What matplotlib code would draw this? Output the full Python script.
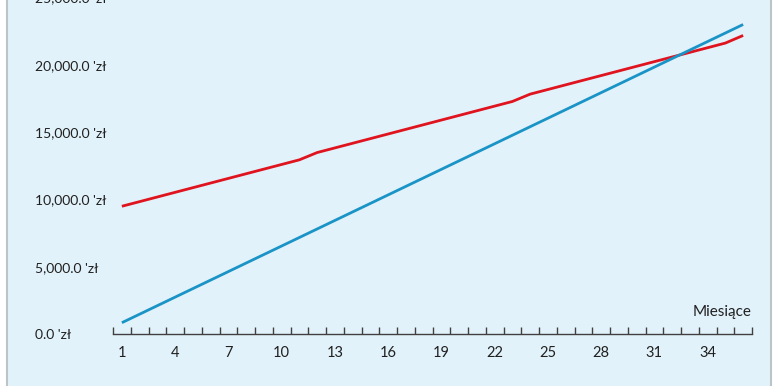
import matplotlib
matplotlib.use("Agg")
import matplotlib.pyplot as plt
from matplotlib.patches import Rectangle
from matplotlib.ticker import FixedLocator, FuncFormatter

months = list(range(1, 37))
red_values = [9490, 9835, 10180, 10525, 10870, 11215, 11560, 11905, 12250, 12595, 12940, 13480,
              13825, 14170, 14515, 14860, 15205, 15550, 15895, 16240, 16585, 16930, 17275, 17820,
              18165, 18510, 18855, 19200, 19545, 19890, 20235, 20580, 20925, 21270, 21615, 22180]
blue_values = [840, 1473, 2106, 2739, 3372, 4005, 4638, 5271, 5904, 6537, 7170, 7803,
               8436, 9069, 9702, 10335, 10968, 11601, 12234, 12867, 13500, 14133, 14766, 15399,
               16032, 16665, 17298, 17931, 18564, 19197, 19830, 20463, 21096, 21729, 22362, 22995]
x_labels = [1, 4, 7, 10, 13, 16, 19, 22, 25, 28, 31, 34]
y_ticks = [0, 5000, 10000, 15000, 20000, 25000]
x_title = "Miesiące"

plt.rcParams['font.family'] = ['Lato', 'DejaVu Sans']

W, H = 777, 386
fig = plt.figure(figsize=(W / 100, H / 100), dpi=100)
fig.patch.set_facecolor('white')
fig.patches.append(Rectangle((7 / W, -0.1), 764 / W, 1.2, transform=fig.transFigure,
                             facecolor='#e2f2fa', edgecolor='#bcc4c8', linewidth=1.5, zorder=-5))

ax = fig.add_axes([113 / W, (H - 334) / H, (752 - 113) / W, (334 + 2.5) / H])
ax.set_zorder(2)
ax.set_facecolor('none')
ax.plot(months, red_values, color='#e0141e', linewidth=2.0, solid_capstyle='butt')
ax.plot(months, blue_values, color='#1a94c6', linewidth=2.0, solid_capstyle='butt')

ax.set_xlim(0.5, 36.5)
ax.set_ylim(0, 25000)
for s in ['top', 'right', 'left']:
    ax.spines[s].set_visible(False)
ax.spines['bottom'].set_color('#404040')
ax.spines['bottom'].set_linewidth(1.0)

ax.xaxis.set_major_locator(FixedLocator(x_labels))
ax.set_xticklabels([str(v) for v in x_labels])
ax.xaxis.set_minor_locator(FixedLocator([m + 0.5 for m in [0] + months]))
ax.tick_params(axis='x', which='major', length=0, pad=8.5, labelsize=10.5, labelcolor='#202020')
ax.tick_params(axis='x', which='minor', direction='in', length=5, width=1.0, color='#404040')

ax.yaxis.set_major_locator(FixedLocator(y_ticks))
ax.yaxis.set_major_formatter(FuncFormatter(lambda v, p: f"{v:,.1f} 'zł"))
ax.tick_params(axis='y', length=0, pad=56, labelsize=10, labelcolor='#202020')
for lbl in ax.get_yticklabels():
    lbl.set_horizontalalignment('left')

ax.text(1.0, 0.065, x_title, transform=ax.transAxes, ha='right', va='center',
        fontsize=11, color='#202020')

fig.savefig('out.png', dpi=100, facecolor=fig.get_facecolor())
